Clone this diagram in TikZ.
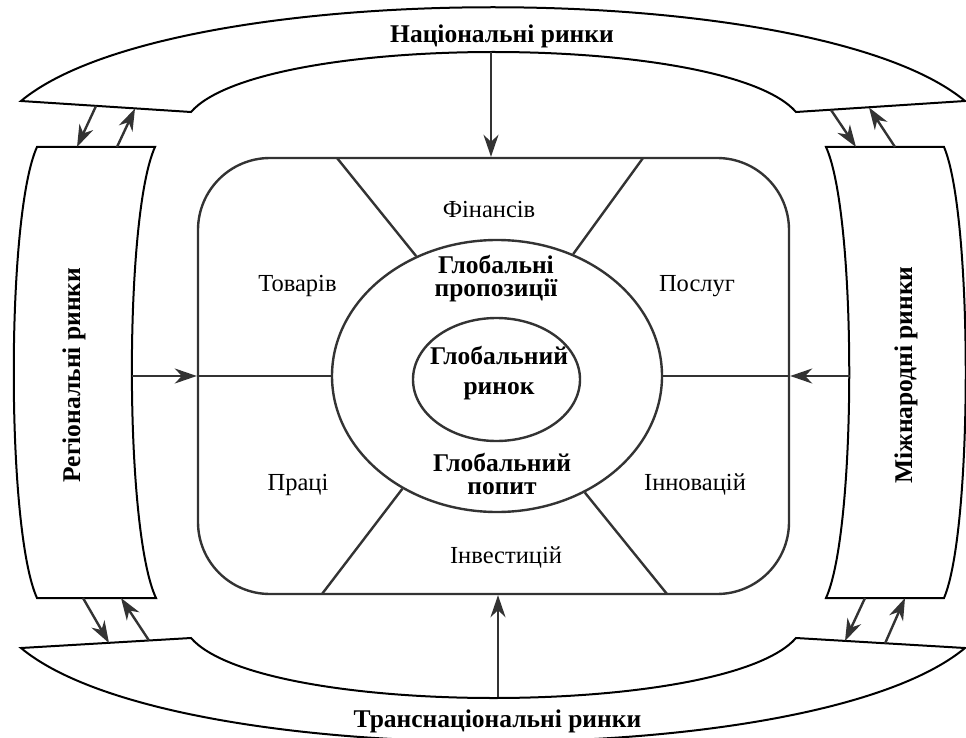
\documentclass[tikz,border=0pt]{standalone}
\usepackage{fontspec}
\setmainfont{Liberation Serif}
\usetikzlibrary{shapes.geometric,arrows.meta}
\begin{document}
\begin{tikzpicture}[x=1pt,y=-1pt,
  band/.style={draw=black,line width=2pt,line join=miter},
  inner/.style={draw=black!80,line width=2.4pt},
  arr/.style={draw=black!80,line width=2.4pt,-{Stealth[length=22pt,width=15pt,inset=7pt]}},
  lbl/.style={font=\fontsize{24.5}{27}\selectfont,inner sep=0,text=black},
  blbl/.style={font=\bfseries\fontsize{25.5}{23}\selectfont,inner sep=0,align=center,text=black},
]
\useasboundingbox (0,0) rectangle (966,738);

% outer bands
\draw[band] (21,101) .. controls (171,-24) and (815,-24) .. (965,101) -- (796,112)
  .. controls (726,32) and (261,32) .. (191,112) -- cycle;
\draw[band] (21,648) .. controls (171,773) and (815,773) .. (965,648) -- (796,638)
  .. controls (726,718) and (261,718) .. (191,638) -- cycle;
\draw[band] (37,147) -- (155,147) .. controls (124,215) and (124,530) .. (156,598)
  -- (37,598) .. controls (6,530) and (6,215) .. (37,147) -- cycle;
\draw[band] (826,147) -- (944,147) .. controls (973,215) and (973,530) .. (944,598)
  -- (826,598) .. controls (857,530) and (857,215) .. (826,147) -- cycle;

% central structure
\node[inner,rounded corners=72pt,minimum width=591pt,minimum height=436pt,inner sep=0] (frame) at (493.5,376) {};
\node[inner,ellipse,minimum width=330pt,minimum height=272pt,inner sep=0] (outer) at (497,376) {};
\node[inner,ellipse,minimum width=167pt,minimum height=123pt,inner sep=0] (core) at (496.5,379.5) {};

\coordinate (fa) at (337,158);
\coordinate (fb) at (643,158);
\coordinate (fc) at (322,594);
\coordinate (fd) at (667,594);
\draw[inner] (fa) -- (outer.124);
\draw[inner] (fb) -- (outer.58.5);
\draw[inner] (fc) -- (outer.230.7);
\draw[inner] (fd) -- (outer.307.2);
\draw[inner] (frame.west) -- (outer.west);
\draw[inner] (outer.east) -- (frame.east);

% arrows into the frame
\coordinate (natb) at (491,52);
\coordinate (trb) at (498,697);
\coordinate (regb) at (132,376);
\coordinate (intb) at (850,376);
\draw[arr] (natb) -- (natb |- frame.north);
\draw[arr] (trb) -- (trb |- frame.south);
\draw[arr] (regb) -- (frame.west);
\draw[arr] (intb) -- (frame.east);

% arrows between bands
\coordinate (tl1) at (96,106);  \coordinate (tl2) at (77,147);
\coordinate (tl3) at (117,147); \coordinate (tl4) at (135,108.5);
\coordinate (tr1) at (831,110); \coordinate (tr2) at (856,147);
\coordinate (tr3) at (895,147); \coordinate (tr4) at (869,107.5);
\coordinate (bl1) at (83,598);  \coordinate (bl2) at (109,643);
\coordinate (bl3) at (149,640.5); \coordinate (bl4) at (121,598);
\coordinate (br1) at (865,598); \coordinate (br2) at (845,641);
\coordinate (br3) at (885,643.5); \coordinate (br4) at (905,598);
\draw[arr] (tl1) -- (tl2);
\draw[arr] (tl3) -- (tl4);
\draw[arr] (tr1) -- (tr2);
\draw[arr] (tr3) -- (tr4);
\draw[arr] (bl1) -- (bl2);
\draw[arr] (bl3) -- (bl4);
\draw[arr] (br1) -- (br2);
\draw[arr] (br3) -- (br4);

% labels
\node[blbl,anchor=base] (nat) at (502,43) {Національні ринки};
\node[blbl,anchor=base] (trans) at (497.5,727) {Транснаціональні ринки};
\node[blbl,anchor=base,rotate=90] (reg) at (80,375) {Регіональні ринки};
\node[blbl,anchor=base,rotate=90] (mizh) at (912,375) {Міжнародні ринки};

\node[lbl,anchor=base] (fin) at (489,218) {Фінансів};
\node[lbl,anchor=base] (tov) at (297.5,291) {Товарів};
\node[lbl,anchor=base] (posl) at (697,291) {Послуг};
\node[lbl,anchor=base] (prac) at (298,490) {Праці};
\node[lbl,anchor=base] (innov) at (695,490) {Інновацій};
\node[lbl,anchor=base] (inv) at (506,563) {Інвестицій};

\node[blbl] (prop) at (496,279) {Глобальні\\пропозиції};
\node[blbl,font=\bfseries\fontsize{25.5}{30}\selectfont] (market) at (499,373) {Глобальний\\ринок};
\node[blbl] (demand) at (502,474) {Глобальний\\попит};
\end{tikzpicture}
\end{document}
